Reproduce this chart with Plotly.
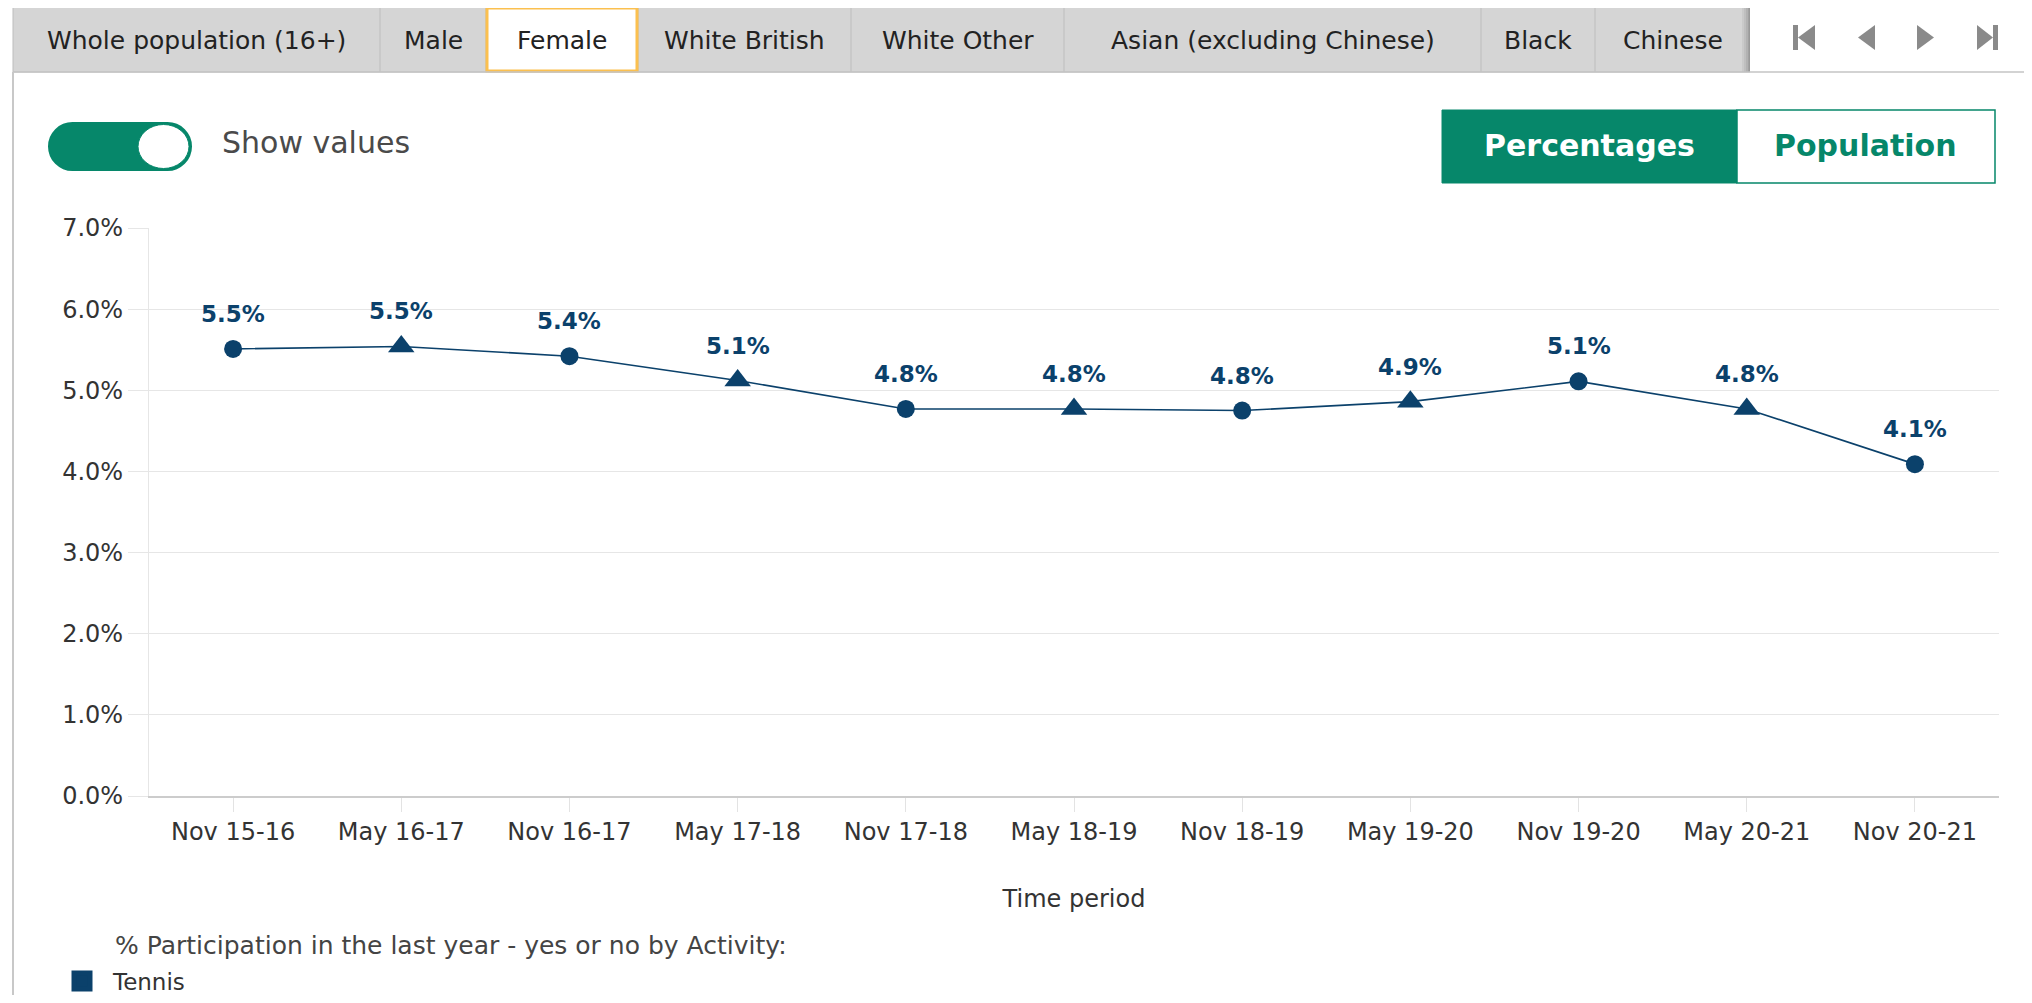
import plotly.graph_objects as go

# ---------------- data ----------------
periods = ["Nov 15-16", "May 16-17", "Nov 16-17", "May 17-18", "Nov 17-18", "May 18-19",
           "Nov 18-19", "May 19-20", "Nov 19-20", "May 20-21", "Nov 20-21"]
tennis_pct = [5.51, 5.54, 5.42, 5.12, 4.77, 4.77, 4.75, 4.86, 5.11, 4.77, 4.09]
symbols = ["circle", "triangle-up", "circle", "triangle-up", "circle", "triangle-up",
           "circle", "triangle-up", "circle", "triangle-up", "circle"]
tabs = ["Whole population (16+)", "Male", "Female", "White British", "White Other",
        "Asian (excluding Chinese)", "Black", "Chinese"]
tab_edges = [13, 380, 486, 638, 851, 1064, 1481, 1595, 1750]
active_tab = "Female"
series_name = "Tennis"
legend_title = "% Participation in the last year - yes or no by Activity:"
x_title = "Time period"

NAVY = "#0b416b"
GREEN = "#06876a"
FONT = "DejaVu Sans"
W, H = 2032, 1003
OFF = 8  # page body margin
FW, FH = W - 2 * OFF, H - 2 * OFF
PL, PR, PT, PB = 149, 1999, 228, 796  # plot area in page pixels


def px(x):
    return (x - PL) / (PR - PL)


def py(y):
    return (PB - y) / (PB - PT)


def rect(x0, y0, x1, y1, fill, line=None, lw=0):
    return dict(type="rect", xref="paper", yref="paper", x0=px(x0), x1=px(x1),
                y0=py(y1), y1=py(y0), fillcolor=fill, layer="above",
                line=dict(color=line or fill, width=lw))


def ell(x0, y0, x1, y1, fill, line=None, lw=0):
    return dict(type="circle", xref="paper", yref="paper", x0=px(x0), x1=px(x1),
                y0=py(y1), y1=py(y0), fillcolor=fill, layer="above",
                line=dict(color=line or fill, width=lw))


def seg(x0, y0, x1, y1, color, lw):
    return dict(type="line", xref="paper", yref="paper", x0=px(x0), x1=px(x1),
                y0=py(y0), y1=py(y1), line=dict(color=color, width=lw), layer="above")


def poly(points, fill):
    d = "M" + " L".join(f"{px(a):.5f},{py(b):.5f}" for a, b in points) + " Z"
    return dict(type="path", xref="paper", yref="paper", path=d, fillcolor=fill,
                line=dict(color=fill, width=0), layer="above")


def text(x, y, s, size, color, anchor="center", weight=400):
    return dict(x=px(x), y=py(y), xref="paper", yref="paper", text=s, showarrow=False,
                xanchor=anchor, yanchor="middle",
                font=dict(family=FONT, size=size, color=color, weight=weight))


fig = go.Figure()
fig.add_trace(go.Scatter(
    x=periods, y=tennis_pct, mode="lines+markers", name=series_name, showlegend=False,
    line=dict(color=NAVY, width=1.6),
    marker=dict(symbol=symbols, size=[18 if s == "circle" else 23 for s in symbols],
                color=NAVY, opacity=1, line=dict(width=0)),
    hovertemplate="%{x}: %{y:.1f}%<extra></extra>",
))
# legend entry (square swatch)
fig.add_trace(go.Scatter(
    x=[None], y=[None], mode="markers", name=series_name, showlegend=True,
    marker=dict(symbol="square", size=16, color=NAVY, line=dict(color=NAVY, width=5)),
))

annotations = []
for p, v in zip(periods, tennis_pct):
    annotations.append(dict(x=p, y=v, xref="x", yref="y", text=f"{v:.1f}%", showarrow=False,
                            yshift=35, font=dict(family=FONT, size=23, color=NAVY, weight=700)))

shapes = []
# tab bar
shapes.append(rect(13, 7, 1750, 72, "#d5d5d5", "#bdbdbd", 1))
for e in tab_edges[1:-1]:
    shapes.append(seg(e, 7, e, 72, "#bdbdbd", 1))
for i, t in enumerate(tabs):
    x0, x1 = tab_edges[i], tab_edges[i + 1]
    if t == active_tab:
        shapes.append(rect(x0 + 1, 8, x1 - 1, 71, "white", "#fbc04f", 3))
    annotations.append(text((x0 + x1) / 2, 40, t, 25, "#222"))
# nav area with shadow
for k, op in enumerate([0.05, 0.1, 0.16, 0.24]):
    shapes.append(dict(type="rect", xref="paper", yref="paper", x0=px(1742 + 2 * k),
                       x1=px(1744 + 2 * k), y0=py(72), y1=py(7),
                       fillcolor=f"rgba(0,0,0,{op})", line=dict(width=0), layer="above"))
shapes.append(rect(1750, 7, 2032, 72, "white"))
shapes.append(seg(13, 72, 2032, 72, "#c4c4c4", 1.5))
shapes.append(seg(13, 7, 1750, 7, "#c4c4c4", 1.5))
NAVC = "#8a8a8a"
shapes.append(rect(1793, 25, 1798, 50, NAVC))
shapes.append(poly([(1798, 37.5), (1815, 25), (1815, 50)], NAVC))
shapes.append(poly([(1858, 37.5), (1875, 25), (1875, 50)], NAVC))
shapes.append(poly([(1917, 25), (1917, 50), (1934, 37.5)], NAVC))
shapes.append(poly([(1977, 25), (1977, 50), (1993, 37.5)], NAVC))
shapes.append(rect(1993, 25, 1998, 50, NAVC))
# content left border
shapes.append(seg(13, 72, 13, 1003, "#c8c8c8", 2))

# toggle
shapes.append(ell(48, 122, 97, 171, GREEN))
shapes.append(ell(143, 122, 192, 171, GREEN))
shapes.append(rect(72, 122, 168, 171, GREEN))
shapes.append(ell(138, 124.5, 189, 168.5, "white", GREEN, 1))
annotations.append(text(220, 142, "Show values", 30, "#4a4a4a", anchor="left"))

# buttons
shapes.append(rect(1442, 110, 1737, 183, GREEN, GREEN, 1))
shapes.append(rect(1737, 110, 1995, 183, "white", GREEN, 1.5))
annotations.append(text(1589, 145, "Percentages", 30, "white", weight=700))
annotations.append(text(1865, 145, "Population", 30, GREEN, weight=700))

# legend title
annotations.append(text(113, 945, legend_title, 25, "#444", anchor="left"))

fig.update_layout(
    width=FW, height=FH,
    margin=dict(l=PL - OFF, r=FW - (PR - OFF), t=PT - OFF, b=FH - (PB - OFF), pad=0,
                autoexpand=False),
    paper_bgcolor="white", plot_bgcolor="white",
    font=dict(family=FONT, size=24, color="#333"),
    showlegend=True,
    legend=dict(orientation="v", x=px(51), xanchor="left", y=py(981), yanchor="middle",
                itemwidth=52, font=dict(family=FONT, size=23, color="#333"),
                bgcolor="rgba(0,0,0,0)"),
    shapes=shapes, annotations=annotations,
)
fig.update_xaxes(
    type="category", range=[-0.5, len(periods) - 0.5], automargin=False,
    showline=True, linecolor="#cccccc", linewidth=2,
    ticks="outside", ticklen=14, tickcolor="#e3e3e3", tickwidth=1,
    showgrid=False, zeroline=False, ticklabelstandoff=-1,
    tickfont=dict(family=FONT, size=24, color="#333"),
    title=dict(text=x_title, standoff=45, font=dict(family=FONT, size=24, color="#333")),
)
fig.update_yaxes(
    range=[0, 7], dtick=1, tick0=0, tickformat=".1f", ticksuffix="%", automargin=False,
    showgrid=True, gridcolor="#e6e6e6", gridwidth=1, zeroline=False,
    showline=True, linecolor="#e6e6e6", linewidth=1,
    ticks="outside", ticklen=20, tickcolor="#e6e6e6",
    tickfont=dict(family=FONT, size=24, color="#333"),
)

fig.write_html("out.html")
